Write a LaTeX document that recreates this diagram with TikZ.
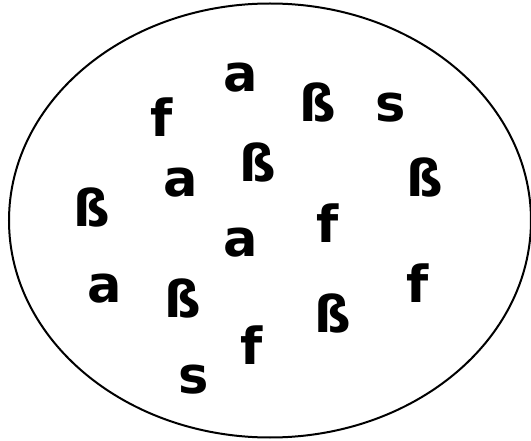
\documentclass[tikz,border=0pt]{standalone}
\usepackage{fontspec}
\usetikzlibrary{shapes.geometric}
\setmainfont{DejaVu Sans}
\tikzset{ltr/.style={anchor=base,inner sep=0pt,font=\fontsize{51}{51}\selectfont\bfseries}}
\begin{document}
\begin{tikzpicture}[x=1pt,y=-1pt]
\useasboundingbox (0,0) rectangle (531,441);
\node[draw,ellipse,minimum width=522pt,minimum height=434pt,line width=2pt,inner sep=0pt] (set) at (270,220.5) {};
\node[ltr] (a1) at (241,92) {a};
\node[ltr] (f1) at (162,137) {f};
\node[ltr] (b1) at (318,122) {ß};
\node[ltr] (s1) at (391,122) {s};
\node[ltr] (b2) at (258,182) {ß};
\node[ltr] (a2) at (181,197) {a};
\node[ltr] (b3) at (425,197) {ß};
\node[ltr] (b4) at (92,227) {ß};
\node[ltr] (f2) at (328,243) {f};
\node[ltr] (a3) at (241,257) {a};
\node[ltr] (a4) at (105,303) {a};
\node[ltr] (f3) at (418,303) {f};
\node[ltr] (b5) at (183,318) {ß};
\node[ltr] (b6) at (333,333) {ß};
\node[ltr] (f4) at (252,364) {f};
\node[ltr] (s2) at (194,393) {s};
\end{tikzpicture}
\end{document}
